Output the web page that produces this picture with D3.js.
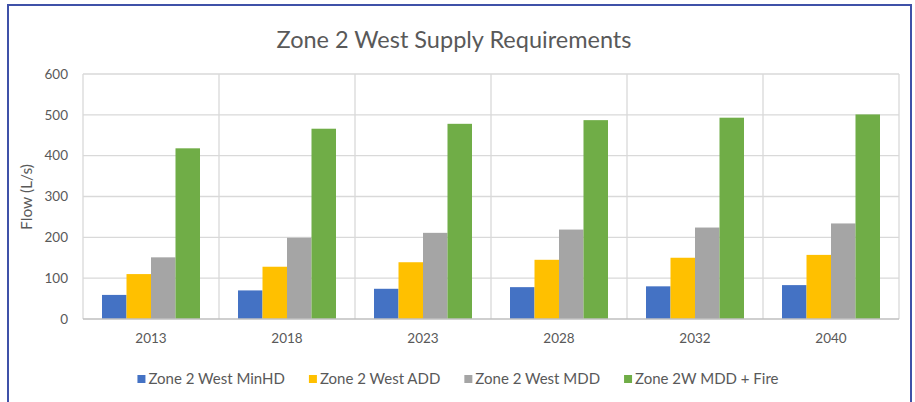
<!DOCTYPE html>
<html>
<head>
<meta charset="utf-8">
<script src="https://cdn.jsdelivr.net/npm/d3@7"></script>
<style>
  html, body { margin: 0; padding: 0; background: #fff; }
  svg { display: block; font-family: Lato, "Open Sans", sans-serif; }
</style>
</head>
<body>
<svg id="chart" width="915" height="402"></svg>
<script>
const years = ['2013', '2018', '2023', '2028', '2032', '2040'];
const seriesNames = ['Zone 2 West MinHD', 'Zone 2 West ADD', 'Zone 2 West MDD', 'Zone 2W MDD + Fire'];
const minHD = [59, 70, 74, 78, 80, 83];
const add = [110, 128, 139, 145, 150, 157];
const mdd = [151, 199, 211, 219, 224, 234];
const mddFire = [418, 466, 478, 487, 493, 501];
const yTicks = [0, 100, 200, 300, 400, 500, 600];
const colors = ['#4472C4', '#FFC000', '#A5A5A5', '#70AD47'];

const seriesValues = [minHD, add, mdd, mddFire];
const rows = years.map((y, i) => ({
  year: y,
  values: seriesNames.map((s, k) => ({ name: s, value: seriesValues[k][i] }))
}));

const svg = d3.select('#chart');
const textColor = '#595959';

// frame
svg.append('rect')
  .attr('x', 8).attr('y', 5)
  .attr('width', 903).attr('height', 420)
  .attr('fill', '#fff')
  .attr('stroke', '#3F51A8')
  .attr('stroke-width', 2);

const plotLeft = 83, plotRight = 899, plotTop = 74, plotBottom = 319;

const x0 = d3.scaleBand().domain(years).range([plotLeft, plotRight]).padding(0);
const x1 = d3.scaleBand().domain(seriesNames).range([0, x0.bandwidth()])
  .paddingInner(0).paddingOuter(0.776);
const y = d3.scaleLinear().domain([0, 600]).range([plotBottom, plotTop]);

// horizontal gridlines
svg.append('g')
  .selectAll('line')
  .data(yTicks.filter(d => d > 0))
  .join('line')
  .attr('x1', plotLeft).attr('x2', plotRight)
  .attr('y1', d => y(d)).attr('y2', d => y(d))
  .attr('stroke', '#D9D9D9').attr('stroke-width', 1.3);

// vertical gridlines at category edges
svg.append('g')
  .selectAll('line')
  .data(years.map(d => x0(d)).concat([plotRight]))
  .join('line')
  .attr('x1', d => d).attr('x2', d => d)
  .attr('y1', plotTop).attr('y2', plotBottom)
  .attr('stroke', '#D9D9D9').attr('stroke-width', 1.3);

// bars
const groups = svg.append('g')
  .selectAll('g')
  .data(rows)
  .join('g')
  .attr('transform', d => `translate(${x0(d.year)},0)`);

groups.selectAll('rect')
  .data(d => d.values)
  .join('rect')
  .attr('x', d => x1(d.name))
  .attr('width', x1.bandwidth())
  .attr('y', d => y(d.value))
  .attr('height', d => y(0) - y(d.value))
  .attr('fill', (d, i) => colors[i]);

// category axis line
svg.append('line')
  .attr('x1', plotLeft).attr('x2', plotRight)
  .attr('y1', plotBottom).attr('y2', plotBottom)
  .attr('stroke', '#BFBFBF').attr('stroke-width', 1.3);

// y axis labels
const yAxis = d3.axisLeft(y).tickValues(yTicks).tickSize(0).tickPadding(15);
const gy = svg.append('g').attr('transform', `translate(${plotLeft},0)`).call(yAxis);
gy.select('.domain').remove();
gy.selectAll('text')
  .attr('fill', textColor)
  .style('font-size', '13.5px')
  .style('font-family', 'Lato, sans-serif');

// x axis labels
const xAxis = d3.axisBottom(x0).tickSize(0).tickPadding(14);
const gx = svg.append('g').attr('transform', `translate(0,${plotBottom})`).call(xAxis);
gx.select('.domain').remove();
gx.selectAll('text')
  .attr('fill', textColor)
  .style('font-size', '13.5px')
  .style('font-family', 'Lato, sans-serif');

// title
svg.append('text')
  .attr('x', 454).attr('y', 48)
  .attr('text-anchor', 'middle')
  .attr('fill', textColor)
  .style('font-size', '23.5px')
  .text('Zone 2 West Supply Requirements');

// y axis title
svg.append('text')
  .attr('transform', 'translate(32,197) rotate(-90)')
  .attr('text-anchor', 'middle')
  .attr('fill', textColor)
  .style('font-size', '15.5px')
  .text('Flow (L/s)');

// legend
const legend = svg.append('g');
const items = legend.selectAll('g')
  .data(seriesNames)
  .join('g');
items.append('rect')
  .attr('width', 8).attr('height', 8)
  .attr('y', -9)
  .attr('fill', (d, i) => colors[i]);
items.append('text')
  .attr('x', 11)
  .attr('fill', textColor)
  .style('font-size', '15px')
  .text(d => d);

let cursor = 0;
items.each(function () {
  const w = this.getBBox().width;
  d3.select(this).attr('transform', `translate(${cursor},384)`);
  cursor += w + 24;
});
const legendWidth = cursor - 24;
legend.attr('transform', `translate(${458 - legendWidth / 2},0)`);
</script>
</body>
</html>
